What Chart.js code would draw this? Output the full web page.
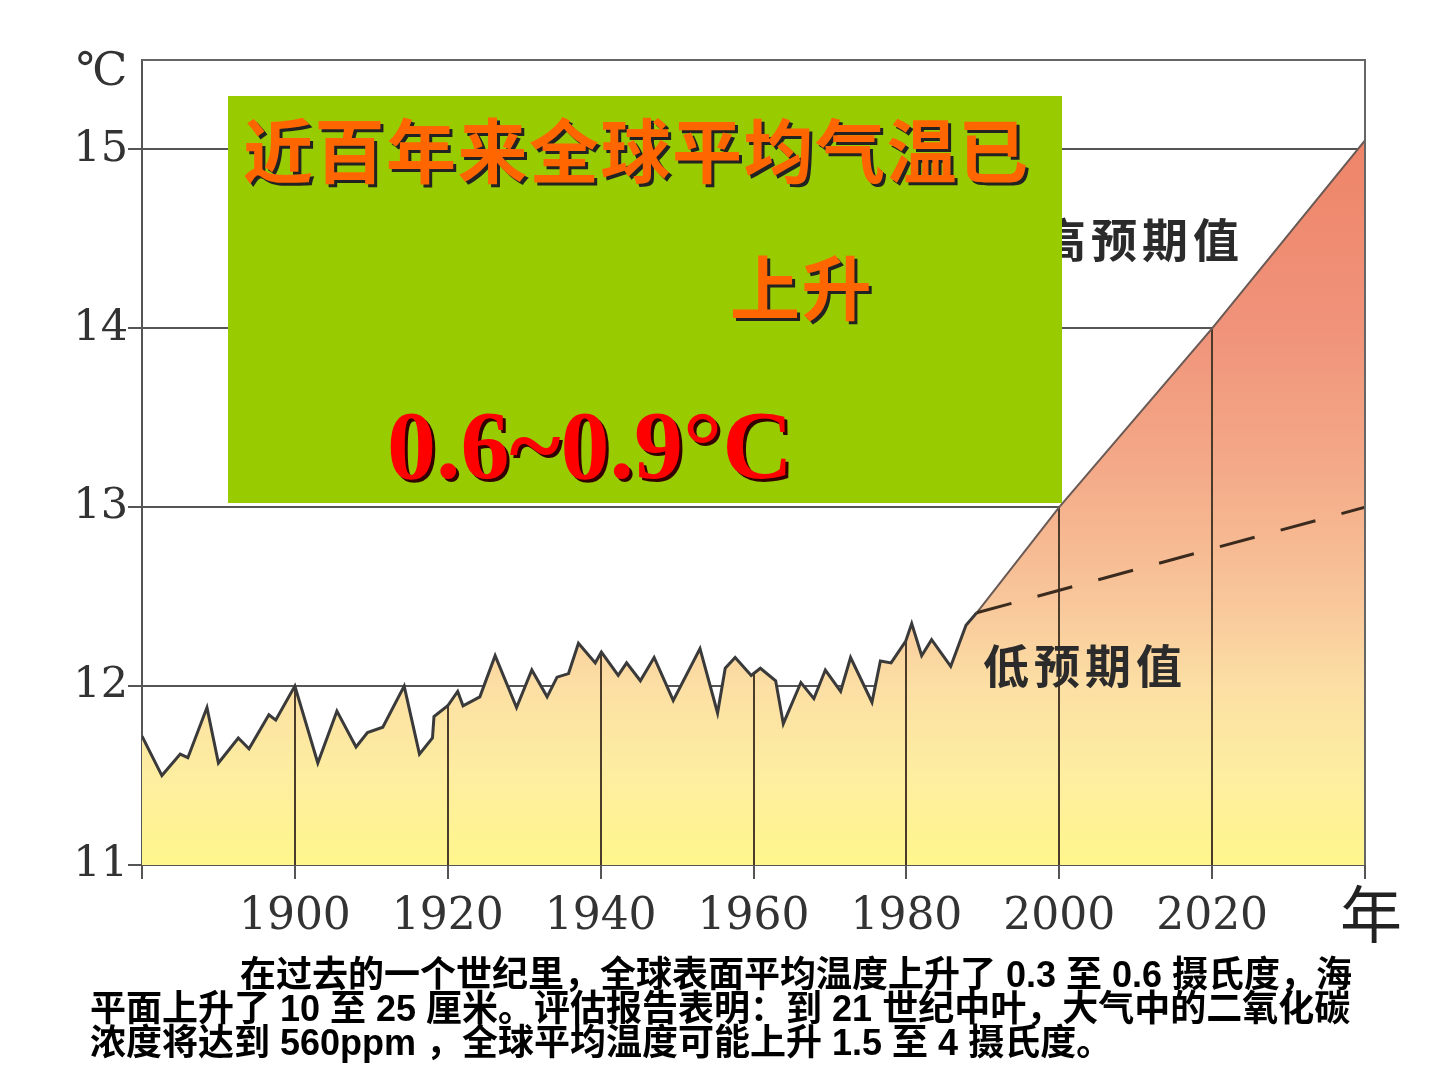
<!DOCTYPE html>
<html>
<head>
<meta charset="utf-8">
<script src="https://cdn.jsdelivr.net/npm/chart.js@4"></script>
<style>
  body { margin: 0; background: #fff; }
  #wrap { position: relative; width: 1440px; height: 1080px; overflow: hidden; }
  #tempChart { position: absolute; left: 0; top: 0; }
  .abs { position: absolute; white-space: nowrap; line-height: 1; }
  #box { left: 228px; top: 96px; width: 834px; height: 407px; background: #99cc00; }
  .cn { font-family: "Noto Sans CJK SC", sans-serif; font-weight: bold; }
  .orange { color: #ff6600; text-shadow: 3px 3px 0 #222; font-size: 70px; letter-spacing: 1.5px; }
  #rise { font-family: "Liberation Serif", serif; font-weight: bold; font-size: 98px; color: #ff0000; text-shadow: 3px 3px 0 #300; }
  .proj { font-size: 46px; color: #2b2b2b; letter-spacing: 5px; }
  #para { left: 90px; top: 958px; font-family: "Liberation Sans", "Noto Sans CJK SC", sans-serif; font-weight: bold; font-size: 36px; line-height: 34px; color: #000; }
</style>
</head>
<body>
<div id="wrap">
  <canvas id="tempChart" width="1440" height="1080"></canvas>
  <div class="abs cn proj" style="left:1040px; top:214px;">高预期值</div>
  <div class="abs cn proj" style="left:983px; top:640px;">低预期值</div>
  <div class="abs" id="box"></div>
  <div class="abs cn orange" style="left:243px; top:113px;">近百年来全球平均气温已</div>
  <div class="abs cn orange" style="left:730px; top:250px;">上升</div>
  <div class="abs" id="rise" style="left:387px; top:396px;">0.6~0.9°C</div>
  <div class="abs" style="left:76px; top:46px; font-family:'DejaVu Serif', serif; font-size:46px; color:#333;">℃</div>
  <div class="abs" style="left:1340px; top:880px; font-family:'Noto Sans CJK SC', sans-serif; font-size:62px; color:#222;">年</div>
  <div class="abs" id="para">
    <div style="padding-left:150px;">在过去的一个世纪里，全球表面平均温度上升了 0.3 至 0.6 摄氏度，海</div>
    <div>平面上升了 10 至 25 厘米。评估报告表明：到 21 世纪中叶，大气中的二氧化碳</div>
    <div>浓度将达到 560ppm ，全球平均温度可能上升 1.5 至 4 摄氏度。</div>
  </div>
</div>
<script>
// observed global mean temperature
const years = [1880, 1882.6, 1885, 1886, 1888.5, 1890, 1892.6, 1894, 1896.6, 1897.5,
  1900, 1903, 1905.5, 1908, 1909.5, 1911.5, 1914.3, 1916.3, 1918, 1918.2,
  1920, 1921.3, 1922, 1924.2, 1926.2, 1929, 1931, 1933, 1934.3, 1935.8,
  1937.1, 1939.3, 1940.1, 1942.3, 1943.4, 1945.2, 1947, 1949.5, 1953, 1955.3,
  1956.3, 1957.6, 1959.7, 1960.9, 1962.9, 1963.9, 1966.2, 1967.9, 1969.4, 1971.4,
  1972.7, 1975.5, 1976.6, 1978, 1979.9, 1980.7, 1982, 1983.3, 1985.8, 1987.8, 1989.2];
const temps = [11.72, 11.50, 11.62, 11.60, 11.88, 11.57, 11.71, 11.65, 11.84, 11.81,
  12.00, 11.57, 11.86, 11.66, 11.74, 11.77, 12.00, 11.62, 11.71, 11.83,
  11.89, 11.97, 11.89, 11.94, 12.17, 11.88, 12.09, 11.94, 12.05, 12.07,
  12.24, 12.13, 12.19, 12.06, 12.13, 12.03, 12.16, 11.92, 12.21, 11.85,
  12.10, 12.16, 12.06, 12.10, 12.03, 11.79, 12.02, 11.93, 12.09, 11.97,
  12.16, 11.91, 12.14, 12.13, 12.25, 12.35, 12.17, 12.26, 12.11, 12.34, 12.41];

// projections
const highYears = [1989.2, 2000, 2020, 2040];
const highTemps = [12.41, 13.0, 14.0, 15.05];
const lowYears = [1989.2, 2040];
const lowTemps = [12.41, 13.0];

const yTicks = [11, 12, 13, 14, 15];
const xTickLabels = [1900, 1920, 1940, 1960, 1980, 2000, 2020];

const pts = (xs, ys) => xs.map((x, i) => ({ x: x, y: ys[i] }));

// observed + high projection form one filled outline
const envYears = years.concat(highYears.slice(1));
const envTemps = temps.concat(highTemps.slice(1));

// vertical fill gradient, salmon at top to yellow at the bottom
function fillGradient(context) {
  const chart = context.chart;
  if (!chart.chartArea) return "#fde8a0";
  const y = chart.scales.y;
  const top = y.getPixelForValue(15.1), bottom = y.getPixelForValue(11);
  const g = chart.ctx.createLinearGradient(0, top, 0, bottom);
  const stops = [[15.1, "#ee8468"], [14.0, "#f0937a"], [13.2, "#f4aa88"], [12.5, "#f8c59a"],
    [12.0, "#fcdfa4"], [11.5, "#fdeea0"], [11.0, "#fff68c"]];
  stops.forEach(s => g.addColorStop((y.getPixelForValue(s[0]) - top) / (bottom - top), s[1]));
  return g;
}

// border on top and right of the plot
const frame = {
  id: "frame",
  afterDraw(chart) {
    const { ctx, chartArea: a } = chart;
    ctx.save();
    ctx.strokeStyle = "#666";
    ctx.lineWidth = 2;
    ctx.beginPath();
    ctx.moveTo(a.left, a.top);
    ctx.lineTo(a.right, a.top);
    ctx.lineTo(a.right, a.bottom);
    ctx.stroke();
    ctx.restore();
  }
};

// vertical lines at the year ticks, only under the curve
const dropLines = {
  id: "dropLines",
  afterDatasetDraw(chart, args) {
    if (args.index !== 3) return; // right after the fill
    const { ctx, chartArea: a, scales } = chart;
    ctx.save();
    ctx.strokeStyle = "#4a3b2a";
    ctx.lineWidth = 2;
    xTickLabels.forEach(yr => {
      let v = envTemps[0];
      for (let i = 1; i < envYears.length; i++) {
        if (envYears[i] >= yr) {
          const t = (yr - envYears[i - 1]) / (envYears[i] - envYears[i - 1]);
          v = envTemps[i - 1] + t * (envTemps[i] - envTemps[i - 1]);
          break;
        }
      }
      const px = Math.round(scales.x.getPixelForValue(yr));
      ctx.beginPath();
      ctx.moveTo(px, scales.y.getPixelForValue(v));
      ctx.lineTo(px, a.bottom);
      ctx.stroke();
    });
    ctx.restore();
  }
};

const ctx = document.getElementById("tempChart").getContext("2d");
const chart = new Chart(ctx, {
  type: "line",
  data: {
    datasets: [
      {
        label: "low",
        data: pts(lowYears, lowTemps),
        borderColor: "#3b2b1e",
        borderWidth: 3,
        borderDash: [36, 27],
        fill: false,
        pointRadius: 0,
        tension: 0,
        order: 0
      },
      {
        label: "observed",
        data: pts(years, temps),
        borderColor: "#3a3a3a",
        borderWidth: 3,
        fill: false,
        pointRadius: 0,
        tension: 0,
        order: 1
      },
      {
        label: "high",
        data: pts(highYears, highTemps),
        borderColor: "#6a5a55",
        borderWidth: 2,
        fill: false,
        pointRadius: 0,
        tension: 0,
        order: 2
      },
      {
        label: "area",
        data: pts(envYears, envTemps),
        borderWidth: 0,
        borderColor: "rgba(0,0,0,0)",
        backgroundColor: fillGradient,
        fill: "start",
        pointRadius: 0,
        tension: 0,
        order: 3
      }
    ]
  },
  options: {
    responsive: false,
    animation: false,
    layout: { padding: { left: 0, right: 75, top: 60, bottom: 0 } },
    plugins: { legend: { display: false }, tooltip: { enabled: false } },
    scales: {
      x: {
        type: "linear",
        min: 1880,
        max: 2040,
        afterFit: s => { s.height = 215; },
        afterBuildTicks: s => { s.ticks = [1880].concat(xTickLabels, [2040]).map(v => ({ value: v })); },
        ticks: {
          stepSize: 20,
          padding: 12,
          color: "#333",
          font: { family: "DejaVu Serif", size: 44 },
          callback: v => (xTickLabels.includes(v) ? String(v) : "")
        },
        grid: { drawOnChartArea: false, color: "#555", lineWidth: 2, tickLength: 14 },
        border: { color: "#555", width: 2 }
      },
      y: {
        min: 11,
        max: 15.5,
        afterFit: s => { s.width = 142; },
        afterBuildTicks: s => { s.ticks = yTicks.map(v => ({ value: v })); },
        ticks: {
          padding: 0,
          color: "#333",
          font: { family: "DejaVu Serif", size: 43 }
        },
        grid: { color: "#555", lineWidth: 2, tickLength: 14 },
        border: { color: "#555", width: 2 }
      }
    }
  },
  plugins: [frame, dropLines]
});
</script>
</body>
</html>
